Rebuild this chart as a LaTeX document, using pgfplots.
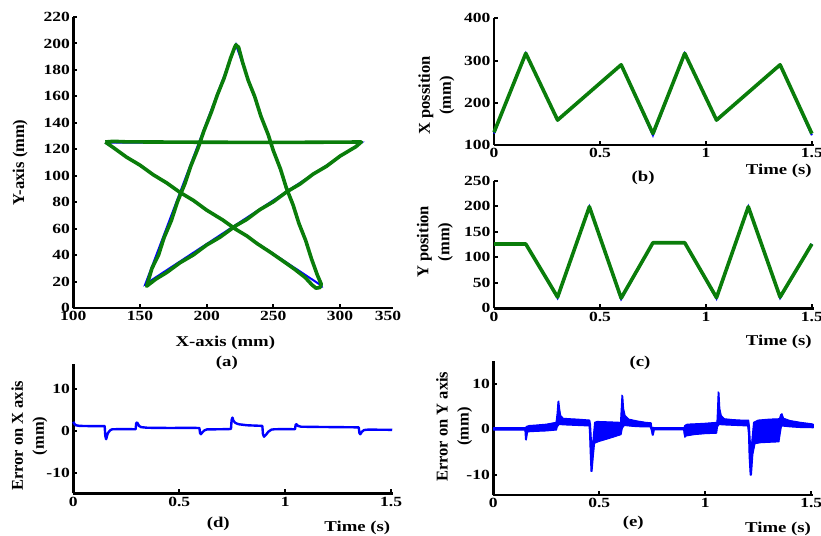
\documentclass[border=0pt]{standalone}
\usepackage{fontspec}
\setmainfont{Liberation Serif}
\newfontfamily\hfont{Liberation Serif}[FakeStretch=1.25]
\usepackage{pgfplots}
\pgfplotsset{compat=1.18}
\definecolor{mgreen}{RGB}{10,125,10}
\definecolor{mblue}{RGB}{0,0,255}
\tikzset{lbl/.style={font=\fontsize{15}{18}\selectfont\hfont\bfseries, anchor=center}}
\pgfplotsset{
  panel/.style={
    scale only axis, width=320pt, clip=false,
    axis lines=left, axis line style={-, line width=2.5pt, black},
    tick align=inside, major tick length=4pt, tick style={line width=2pt, black},
    /pgf/number format/assume math mode=true,
    tick label style={font=\fontsize{14}{16}\selectfont\hfont\bfseries},
    xlabel style={font=\fontsize{15}{18}\selectfont\hfont\bfseries, anchor=center},
    ylabel style={font=\fontsize{16.5}{21}\selectfont\bfseries, anchor=center, align=center},
  },
  tpanel/.style={panel, xmin=0, xmax=1.51, xtick={0,0.5,1,1.5}},
}
\begin{document}
\begin{tikzpicture}
\path[use as bounding box] (0,0) rectangle (821pt,-535pt);

% (a) star
\begin{axis}[panel, at={(73.3pt,-308pt)}, anchor=south west, height=291pt,
  xmin=100, xmax=340, ymin=0, ymax=220,
  xtick={100,150,200,250,300}, ytick={0,20,...,220},
  extra x ticks={336}, extra x tick labels={350}, extra x tick style={major tick length=0pt},
  xlabel={X-axis (mm)}, xlabel style={at={(axis description cs:0.475,-0.12)}},
  ylabel={Y-axis (mm)}, ylabel style={at={(axis description cs:-0.166,0.5)}}]
\addplot[mblue, line width=2pt] coordinates {(124,125) (316,125) (154,18) (222,199) (286,17) (124,125)};
\addplot[mgreen, line width=3.6pt, line join=round] coordinates {
(124,125.5) (130,126) (140,125.6) (200,125.3) (260,125.2) (316,125.5)
(312,122) (300,114.8) (290,107.2) (280,101.3) (270,93.7) (260,87.8) (250,80.3) (240,74.4) (230,66.9) (222,62.3) (210,53.5) (200,47.6) (190,40.1) (180,34.2) (170,26.8) (162,21.9) (155,16.5)
(159,30) (163.9,40) (168,53) (173.5,66) (178,80) (183.7,94) (188,107) (193.6,121) (198,134) (203.5,148) (208,161) (213.2,174) (218,189) (221,197) (222,199)
(224,197) (226.9,186) (231.2,172) (236,160) (240.7,145) (246.2,131) (250,119) (255.4,105) (259.7,91) (264.8,78) (269.2,64) (274.3,51) (278.7,37) (283,25) (286,18) (285,15.5) (282,15) (279,17.5) (274,23)
(266,29.3) (258,35) (248,42) (238,48.6) (230,54.6) (222,59.4) (212,66.6) (200,74) (190,81.4) (180,87.4) (170,94.6) (160,100.7) (150,108) (140,114) (130,121.3) (124,125.5)};
\node[lbl] at (axis description cs:0.48,-0.19) {(a)};
\end{axis}

% (b) X position
\begin{axis}[tpanel, at={(494pt,-145pt)}, anchor=south west, height=126.7pt,
  ymin=100, ymax=400, ytick={100,200,300,400},
  xlabel={Time (s)}, xlabel style={at={(axis description cs:0.89,-0.205)}},
  ylabel={X possition\\(mm)}, ylabel style={at={(axis description cs:-0.18,0.39)}}]
\addplot[mblue, line width=2pt] coordinates {(0,127) (0.15,317) (0.3,159) (0.6,290) (0.75,123) (0.9,317) (1.05,159) (1.35,290) (1.5,123)};
\addplot[mgreen, line width=3.6pt, line join=round] coordinates {(0,130) (0.15,317) (0.3,159) (0.6,290) (0.75,127) (0.9,317) (1.05,159) (1.35,290) (1.5,127)};
\node[lbl] at (axis description cs:0.466,-0.26) {(b)};
\end{axis}

% (c) Y position
\begin{axis}[tpanel, at={(494pt,-308.3pt)}, anchor=south west, height=127.6pt,
  ymin=0, ymax=250, ytick={0,50,...,250},
  xlabel={Time (s)}, xlabel style={at={(axis description cs:0.89,-0.26)}},
  ylabel={Y position\\(mm)}, ylabel style={at={(axis description cs:-0.185,0.52)}}]
\addplot[mblue, line width=2pt] coordinates {(0,126) (0.15,126) (0.3,20) (0.45,199) (0.6,18) (0.75,128) (0.9,128) (1.05,19) (1.2,199) (1.35,20) (1.5,126)};
\addplot[mgreen, line width=3.6pt, line join=round] coordinates {(0,126) (0.15,126) (0.3,22) (0.45,199) (0.6,20) (0.75,128.5) (0.9,128.5) (1.05,21) (1.2,199) (1.35,22) (1.5,126)};
\node[lbl] at (axis description cs:0.456,-0.43) {(c)};
\end{axis}

% (d) Error on X axis
\begin{axis}[tpanel, at={(73.3pt,-493.3pt)}, anchor=south west, height=129pt,
  ymin=-15, ymax=16, ytick={-10,0,10},
  xlabel={Time (s)}, xlabel style={at={(axis description cs:0.8875,-0.266)}},
  ylabel={Error on X axis\\(mm)}, ylabel style={at={(axis description cs:-0.1375,0.445)}}]
\addplot[mblue, line width=2.4pt, line join=round] coordinates {
(0,2.2) (0.005,1.7) (0.012,1.35) (0.03,1.2) (0.08,1.15) (0.148,1.15)
(0.151,-1.2) (0.155,-2.0) (0.16,-1.0) (0.165,-0.4) (0.175,0.2) (0.185,0.4) (0.24,0.42) (0.294,0.4)
(0.297,1.9) (0.302,2.0) (0.31,1.2) (0.32,0.9) (0.35,0.75) (0.45,0.7) (0.55,0.72) (0.595,0.7)
(0.598,-0.5) (0.602,-0.8) (0.61,-0.3) (0.618,0.1) (0.63,0.35) (0.7,0.4) (0.744,0.45)
(0.747,2.6) (0.751,3.2) (0.756,2.4) (0.765,1.9) (0.78,1.6) (0.82,1.35) (0.892,1.2)
(0.895,-0.8) (0.9,-1.4) (0.91,-0.9) (0.92,-0.2) (0.935,0.3) (0.95,0.4) (1.0,0.42) (1.046,0.4)
(1.049,1.4) (1.053,1.6) (1.06,1.2) (1.075,1.0) (1.15,0.95) (1.25,0.9) (1.347,0.85)
(1.35,-0.5) (1.354,-0.8) (1.362,-0.2) (1.372,0.2) (1.39,0.3) (1.45,0.28) (1.505,0.25)};
\node[lbl] at (axis description cs:0.453,-0.234) {(d)};
\end{axis}

% (e) Error on Y axis
\begin{axis}[tpanel, at={(493.3pt,-495pt)}, anchor=south west, height=134pt,
  ymin=-14.5, ymax=15, ytick={-10,0,10},
  xlabel={Time (s)}, xlabel style={at={(axis description cs:0.89,-0.25)}},
  ylabel={Error on Y axis\\(mm)}, ylabel style={at={(axis description cs:-0.122,0.51)}}]
\addplot[mblue, fill=mblue, line width=1pt, line join=round] coordinates {
(0,0.35) (0.148,0.35) (0.152,0.3) (0.156,0.6) (0.17,0.8) (0.2,0.9) (0.25,1.1) (0.296,1.5)
(0.301,3.5) (0.305,6.0) (0.309,6.2) (0.313,4.5) (0.318,3.0) (0.33,2.4) (0.36,2.3) (0.4,2.2) (0.455,2.0)
(0.459,1.0) (0.463,-2.5) (0.468,-3.5) (0.473,-1.0) (0.478,1.5) (0.49,1.7) (0.55,1.6) (0.6,1.5)
(0.603,4.0) (0.607,7.5) (0.611,7.2) (0.615,4.5) (0.622,3.0) (0.64,2.2) (0.68,1.8) (0.72,1.5) (0.745,1.4)
(0.748,0.4) (0.76,0.35) (0.9,0.35) (0.903,0.8) (0.915,1.1) (0.96,1.2) (1.0,1.3) (1.055,1.5)
(1.058,4.5) (1.061,8.2) (1.065,8.0) (1.069,4.5) (1.076,3.0) (1.09,2.3) (1.13,2.1) (1.17,2.0) (1.205,2.0)
(1.209,0.5) (1.213,-3.0) (1.218,-3.5) (1.223,-1.0) (1.228,1.5) (1.25,2.0) (1.3,2.2) (1.35,2.3)
(1.356,3.2) (1.362,3.4) (1.37,2.4) (1.4,1.9) (1.45,1.5) (1.5,1.2) (1.51,1.1)
(1.51,0.3) (1.45,0.35) (1.4,0.5) (1.36,0.7) (1.354,-1.0) (1.348,-2.8) (1.3,-2.9) (1.26,-3.0) (1.235,-3.2)
(1.225,-5.5) (1.218,-10.1) (1.212,-10.1) (1.207,-6.0) (1.204,-1.0) (1.2,0.7) (1.15,0.8) (1.1,0.9) (1.065,1.0)
(1.058,0.5) (1.054,-0.9) (1.0,-1.0) (0.95,-1.2) (0.91,-1.5) (0.904,-1.8) (0.9,-1.0) (0.898,-0.15)
(0.76,-0.15) (0.755,-1.3) (0.75,-1.3) (0.746,-0.3) (0.74,0.5) (0.7,0.5) (0.66,0.6) (0.618,0.8)
(0.609,0.2) (0.603,-1.2) (0.597,-1.3) (0.55,-2.0) (0.5,-2.7) (0.478,-3.1) (0.472,-6.0)
(0.466,-9.3) (0.461,-9.3) (0.457,-5.0) (0.454,-1.0) (0.452,0.7) (0.4,0.8) (0.35,0.9) (0.31,1.0)
(0.302,0.5) (0.298,-0.2) (0.25,-0.4) (0.2,-0.5) (0.162,-0.6) (0.156,-2.4) (0.152,-2.3) (0.149,-0.2) (0,-0.2) (0,0.35)};
\node[lbl] at (axis description cs:0.4375,-0.21) {(e)};
\end{axis}
\end{tikzpicture}
\end{document}
